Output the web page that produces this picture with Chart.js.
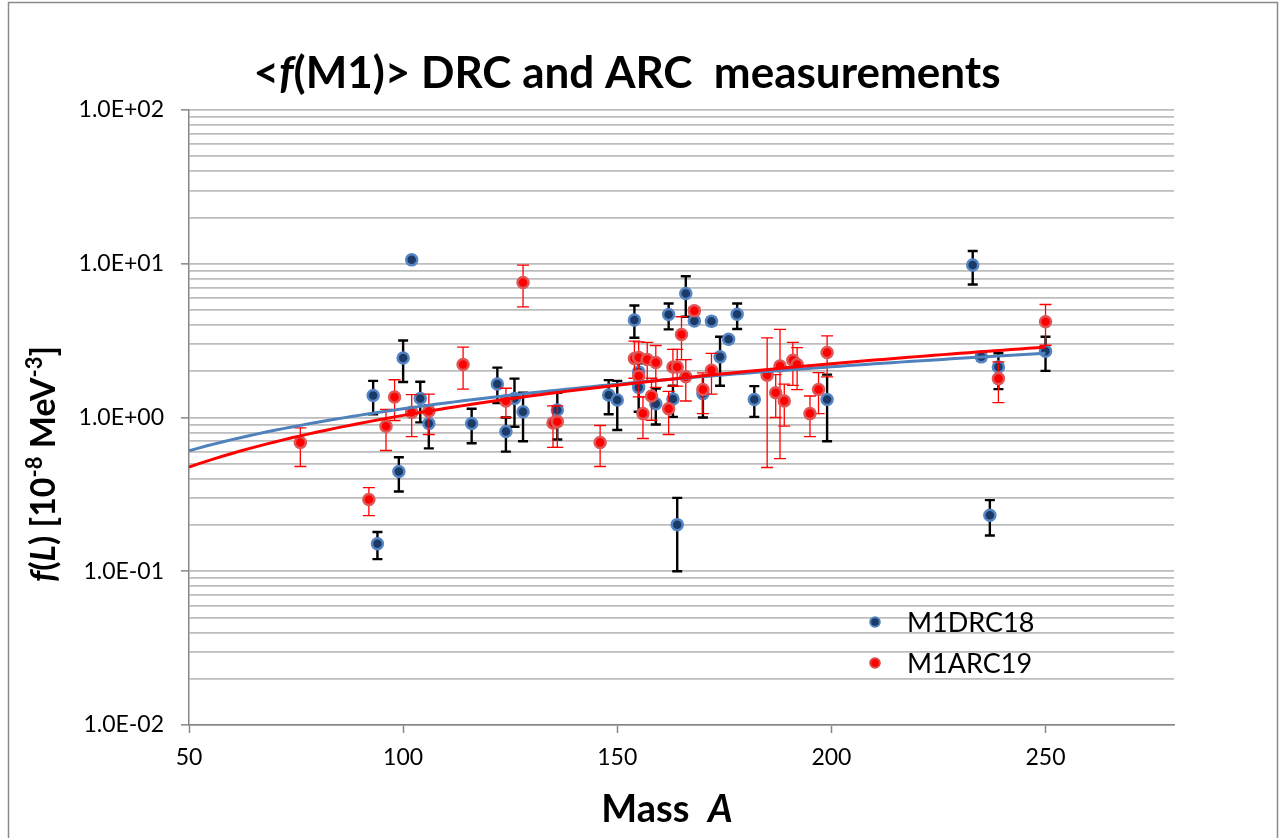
<!DOCTYPE html>
<html>
<head>
<meta charset="utf-8">
<title>f(M1) DRC and ARC measurements</title>
<script src="https://cdn.jsdelivr.net/npm/chart.js@4.4.1/dist/chart.umd.min.js"></script>
<style>
  html, body { margin: 0; padding: 0; background: #ffffff; }
  #wrap { position: relative; width: 1281px; height: 838px; }
</style>
</head>
<body>
<div id="wrap"><canvas id="chart"></canvas></div>
<script>
// ---------------- data ----------------
const seriesNames = ['M1DRC18', 'M1ARC19'];

// M1DRC18 : mass A, <f(M1)> value, lower / upper end of the error bar
const drcMass  = [93, 94, 99, 100, 102, 104, 106, 116, 122, 124, 126, 128, 136, 148, 150, 154, 155, 155, 159, 162, 163, 164, 166, 168, 170, 172, 174, 176, 178, 182, 199, 233, 235, 237, 239, 250];
const drcValue = [1.39, 0.151, 0.445, 2.44, 10.6, 1.33, 0.914, 0.914, 1.65, 0.81, 1.33, 1.09, 1.12, 1.40, 1.30, 4.31, 1.98, 1.57, 1.23, 4.68, 1.32, 0.201, 6.41, 4.25, 1.43, 4.23, 2.48, 3.23, 4.70, 1.31, 1.31, 9.8, 2.48, 0.231, 2.13, 2.70];
const drcLow   = [1.05, 0.12, 0.33, 1.70, 10.3, 0.93, 0.63, 0.68, 1.24, 0.60, 0.87, 0.70, 0.72, 1.05, 0.83, 3.30, 1.75, 1.09, 0.90, 3.74, 1.01, 0.10, 4.52, 4.10, 1.00, 4.00, 1.61, 3.10, 3.76, 1.01, 0.70, 7.33, 2.35, 0.171, 1.53, 2.01];
const drcHigh  = [1.73, 0.18, 0.552, 3.17, 10.9, 1.71, 1.20, 1.14, 2.11, 1.00, 1.79, 1.45, 1.45, 1.75, 1.73, 5.35, 2.25, 1.95, 1.54, 5.52, 1.61, 0.30, 8.30, 4.40, 1.86, 4.45, 3.35, 3.35, 5.52, 1.60, 1.90, 12.1, 2.60, 0.29, 2.62, 3.35];

// M1ARC19 : mass A, <f(M1)> value, lower / upper end of the error bar
const arcMass  = [76, 92, 96, 98, 102, 106, 114, 124, 128, 135, 136, 146, 154, 155, 155, 156, 157, 158, 159, 162, 163, 164, 165, 166, 168, 170, 172, 185, 187, 188, 189, 191, 192, 195, 197, 199, 239, 250];
const arcValue = [0.688, 0.293, 0.877, 1.36, 1.08, 1.10, 2.21, 1.28, 7.55, 0.92, 0.94, 0.688, 2.42, 2.46, 1.86, 1.06, 2.38, 1.38, 2.28, 1.14, 2.13, 2.13, 3.47, 1.84, 4.94, 1.52, 2.03, 1.88, 1.45, 2.16, 1.28, 2.36, 2.21, 1.06, 1.52, 2.65, 1.79, 4.19];
const arcLow   = [0.48, 0.23, 0.61, 0.956, 0.75, 0.775, 1.53, 1.00, 5.24, 0.64, 0.64, 0.48, 1.80, 1.80, 1.36, 0.73, 1.70, 0.96, 1.57, 0.775, 1.60, 1.60, 2.38, 1.28, 4.70, 1.06, 1.42, 0.473, 1.00, 0.54, 0.88, 1.62, 1.52, 0.75, 1.06, 1.84, 1.25, 2.95];
const arcHigh  = [0.855, 0.35, 1.13, 1.76, 1.41, 1.42, 2.87, 1.55, 9.80, 1.19, 1.19, 0.887, 3.14, 3.10, 2.40, 1.36, 3.08, 1.80, 2.94, 1.48, 2.77, 2.77, 4.52, 2.38, 5.20, 1.95, 2.61, 3.30, 1.90, 3.74, 1.65, 3.08, 2.85, 1.38, 1.96, 3.40, 2.30, 5.43];

// axes
const xTickValues = [50, 100, 150, 200, 250];
const yDecades    = [0.01, 0.1, 1, 10, 100];
const yTickLabels = ['1.0E-02', '1.0E-01', '1.0E+00', '1.0E+01', '1.0E+02'];
const xMin = 50, xMax = 280;

// ---------------- power-law trendlines (least squares on ln/ln, as Excel does) ----------------
function powerFit(xs, ys) {
  let n = xs.length, sx = 0, sy = 0, sxx = 0, sxy = 0;
  for (let i = 0; i < n; i++) {
    const lx = Math.log(xs[i]), ly = Math.log(ys[i]);
    sx += lx; sy += ly; sxx += lx * lx; sxy += lx * ly;
  }
  const b = (n * sxy - sx * sy) / (n * sxx - sx * sx);
  const a = Math.exp((sy - b * sx) / n);
  return { a, b };
}
function trendPoints(xs, ys, from) {
  const f = powerFit(xs, ys);
  const to = Math.max(...xs);
  const pts = [];
  for (let x = from; x <= to; x += 2) pts.push({ x: x, y: f.a * Math.pow(x, f.b) });
  return pts;
}
const toPoints = (xs, ys) => xs.map((x, i) => ({ x: x, y: ys[i] }));

const errorBars = {
  0: { low: drcLow, high: drcHigh, xs: drcMass, color: '#000000', width: 2.4, cap: 5 },
  1: { low: arcLow, high: arcHigh, xs: arcMass, color: '#ff0000', width: 1.3, cap: 6 }
};

const FONT = 'Lato, "Open Sans", "DejaVu Sans", sans-serif';

// ---------------- plugins ----------------
const errorBarPlugin = {
  id: 'errorBars',
  beforeDatasetDraw(chart, args) {
    const eb = errorBars[args.index];
    if (!eb) return;
    const xs = chart.scales.x, ys = chart.scales.y, ctx = chart.ctx;
    ctx.save();
    ctx.strokeStyle = eb.color;
    ctx.lineWidth = eb.width;
    ctx.lineCap = 'butt';
    for (let i = 0; i < eb.xs.length; i++) {
      const px = xs.getPixelForValue(eb.xs[i]);
      const y1 = ys.getPixelForValue(eb.low[i]);
      const y2 = ys.getPixelForValue(eb.high[i]);
      ctx.beginPath();
      ctx.moveTo(px, y1); ctx.lineTo(px, y2);
      ctx.moveTo(px - eb.cap, y1); ctx.lineTo(px + eb.cap, y1);
      ctx.moveTo(px - eb.cap, y2); ctx.lineTo(px + eb.cap, y2);
      ctx.stroke();
    }
    ctx.restore();
  }
};

function drawRich(ctx, parts, x, y, align) {
  let total = 0;
  parts.forEach(p => { ctx.font = p.f; total += ctx.measureText(p.t).width; });
  let cx = align === 'center' ? x - total / 2 : x;
  parts.forEach(p => {
    ctx.font = p.f;
    ctx.fillText(p.t, cx, y + (p.dy || 0));
    cx += ctx.measureText(p.t).width;
  });
}

const decorPlugin = {
  id: 'decor',
  afterDraw(chart) {
    const ctx = chart.ctx;
    ctx.save();
    // outer chart border
    ctx.strokeStyle = '#8a8a8a';
    ctx.lineWidth = 1.5;
    ctx.strokeRect(8.5, 2.5, 1269, 860);

    ctx.fillStyle = '#000000';
    ctx.textBaseline = 'alphabetic';
    ctx.textAlign = 'left';
    // title
    const tb = 'bold 44px ' + FONT, ti = 'italic bold 44px ' + FONT;
    drawRich(ctx, [
      { t: '<', f: tb }, { t: 'f', f: ti }, { t: '(M1)> DRC and ARC  measurements', f: tb }
    ], 627, 88, 'center');

    // x axis title
    const xb = 'bold 38px ' + FONT, xi = 'italic bold 38px ' + FONT;
    drawRich(ctx, [{ t: 'Mass  ', f: xb }, { t: 'A', f: xi }], 667, 822, 'center');

    // y axis title (rotated)
    ctx.save();
    ctx.translate(55, 464);
    ctx.rotate(-Math.PI / 2);
    const yb = 'bold 34px ' + FONT, yi = 'italic bold 34px ' + FONT, ys = 'bold 22px ' + FONT;
    drawRich(ctx, [
      { t: 'f', f: yi }, { t: '(', f: yb }, { t: 'L', f: yi }, { t: ') [10', f: yb },
      { t: '-8', f: ys, dy: -13 }, { t: ' MeV', f: yb }, { t: '-3', f: ys, dy: -13 }, { t: ']', f: yb }
    ], 0, 0, 'center');
    ctx.restore();

    // legend (inside the plot area)
    const leg = [
      { name: seriesNames[0], y: 622, fill: '#1b3a66', stroke: '#4f81bd' },
      { name: seriesNames[1], y: 663, fill: '#ff0000', stroke: '#d84a4a' }
    ];
    leg.forEach(l => {
      ctx.beginPath();
      ctx.arc(875, l.y, 4.8, 0, Math.PI * 2);
      ctx.fillStyle = l.fill; ctx.fill();
      ctx.lineWidth = 2; ctx.strokeStyle = l.stroke; ctx.stroke();
      ctx.fillStyle = '#000000';
      ctx.font = '27px ' + FONT;
      ctx.textBaseline = 'middle';
      ctx.fillText(l.name, 907, l.y + 1);
    });
    ctx.restore();
  }
};

// ---------------- chart ----------------
const isDecade = v => yDecades.some(d => Math.abs(d - v) / d < 1e-6);

new Chart(document.getElementById('chart'), {
  type: 'scatter',
  data: {
    datasets: [
      {
        label: seriesNames[0],
        data: toPoints(drcMass, drcValue),
        pointRadius: 5.5, pointHoverRadius: 5.5,
        pointBackgroundColor: '#1b3a66', pointBorderColor: '#5585c4', pointBorderWidth: 2.5,
        showLine: false, order: 4
      },
      {
        label: seriesNames[1],
        data: toPoints(arcMass, arcValue),
        pointRadius: 5.5, pointHoverRadius: 5.5,
        pointBackgroundColor: '#ff0000', pointBorderColor: '#de5656', pointBorderWidth: 2.5,
        showLine: false, order: 3
      },
      {
        label: 'Power (' + seriesNames[0] + ')',
        type: 'line',
        data: trendPoints(drcMass, drcValue, xMin),
        borderColor: '#4f81bd', borderWidth: 3, pointRadius: 0, tension: 0, fill: false, order: 1
      },
      {
        label: 'Power (' + seriesNames[1] + ')',
        type: 'line',
        data: trendPoints(arcMass, arcValue, xMin),
        borderColor: '#ff0000', borderWidth: 3, pointRadius: 0, tension: 0, fill: false, order: 0
      }
    ]
  },
  options: {
    responsive: true,
    maintainAspectRatio: false,
    animation: false,
    events: [],
    layout: { padding: { top: 110, left: 0, right: 107, bottom: 0 } },
    plugins: {
      legend: { display: false },
      title: { display: false },
      tooltip: { enabled: false }
    },
    scales: {
      x: {
        type: 'linear',
        min: xMin, max: xMax,
        afterBuildTicks: s => { s.ticks = xTickValues.map(v => ({ value: v })); },
        afterFit: s => { s.height = 113; },
        ticks: {
          autoSkip: false, maxRotation: 0,
          font: { family: FONT, size: 23 }, color: '#000000', padding: 11,
          callback: v => String(v)
        },
        grid: { drawOnChartArea: false, drawTicks: true, tickLength: 8, tickColor: '#868686', tickWidth: 1.5 },
        border: { display: true, color: '#868686', width: 1.5 }
      },
      y: {
        type: 'logarithmic',
        min: 0.01, max: 100,
        afterBuildTicks: s => {
          const t = [];
          yDecades.forEach((d, i) => {
            if (i === yDecades.length - 1) { t.push({ value: d }); return; }
            for (let k = 1; k <= 9; k++) t.push({ value: d * k });
          });
          s.ticks = t;
        },
        afterFit: s => { s.width = 189; },
        ticks: {
          autoSkip: false,
          font: { family: FONT, size: 23 }, color: '#000000', padding: 17,
          callback: v => { const i = yDecades.findIndex(d => Math.abs(d - v) / d < 1e-6); return i >= 0 ? yTickLabels[i] : ''; }
        },
        grid: {
          color: '#bdbdbd', lineWidth: 1.7,
          drawTicks: true, tickLength: 8, tickWidth: 1.5,
          tickColor: c => (c.tick && isDecade(c.tick.value)) ? '#868686' : 'rgba(0,0,0,0)'
        },
        border: { display: true, color: '#868686', width: 1.5 }
      }
    }
  },
  plugins: [errorBarPlugin, decorPlugin]
});
</script>
</body>
</html>
